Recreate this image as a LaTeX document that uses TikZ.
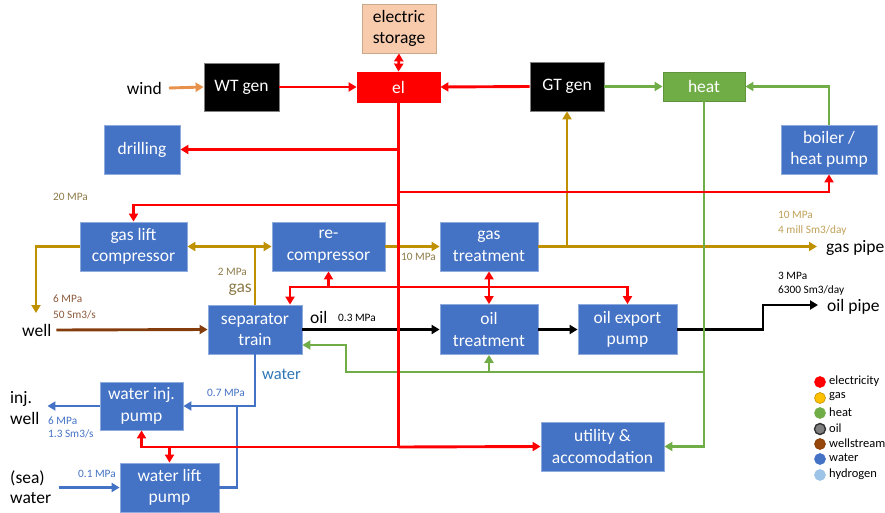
\documentclass[tikz,border=0pt]{standalone}
\usepackage{fontspec}
\setmainfont{Carlito}
\usetikzlibrary{arrows.meta,calc}
\definecolor{cred}{HTML}{FF0000}
\definecolor{cgold}{HTML}{BF9000}
\definecolor{cgreen}{HTML}{70AD47}
\definecolor{cblue}{HTML}{4472C4}
\definecolor{cbrown}{HTML}{843C0C}
\definecolor{corange}{HTML}{E8914A}
\definecolor{cpeach}{HTML}{F8CBAD}
\definecolor{cpeachd}{HTML}{C9A98C}
\definecolor{cbord}{HTML}{8FAADC}
\definecolor{gaslab}{HTML}{8C7A48}
\definecolor{gaslabB}{HTML}{BFA056}
\definecolor{brlab}{HTML}{8B5A3C}
\definecolor{bllab}{HTML}{4472C4}
\definecolor{watlab}{HTML}{2E75B6}
\definecolor{cgrey}{HTML}{7F7F7F}
\definecolor{cyell}{HTML}{FFC000}
\definecolor{chyd}{HTML}{9DC3E6}
\begin{document}
\begin{tikzpicture}[x=1pt,y=-1pt,
  box/.style={draw=cbord, line width=0.8pt, fill=cblue, text=white, align=center,
    font=\fontsize{17.5}{21.5}\selectfont, inner sep=0pt},
  txt/.style={font=\fontsize{17.5}{20.5}\selectfont, inner sep=0pt, align=left},
  sml/.style={font=\fontsize{11.3}{14}\selectfont, inner sep=0pt, align=left},
  leg/.style={font=\fontsize{12.5}{14}\selectfont, inner sep=0pt, anchor=west},
  dot/.style={circle, minimum size=11pt, inner sep=0pt, line width=0.6pt},
  ln/.style={line width=2.9pt},
  ar/.style={-{Triangle[length=8pt,width=9pt]}},
  dar/.style={{Triangle[length=8pt,width=9pt]}-{Triangle[length=8pt,width=9pt]}},
  elc/.style={ln, draw=cred},
  gasc/.style={ln, draw=cgold},
  oilc/.style={ln, draw=black},
  wsc/.style={ln, draw=cbrown},
  watc/.style={ln, draw=cblue},
  heatc/.style={ln, draw=cgreen},
  windc/.style={ln, draw=corange}
]
\useasboundingbox (0,0) rectangle (885,513);

% ---------- boxes ----------
\node[box, fill=cpeach, draw=cpeachd, text=black, minimum width=74pt, minimum height=49pt] (stor) at (399,28.5) {electric\\storage};
\node[box, fill=black, draw=gray, minimum width=75pt, minimum height=48pt] (wt) at (241.5,87) {WT gen};
\node[box, fill=cred, draw=cred, minimum width=83pt, minimum height=30pt] (el) at (398.5,87) {el};
\node[box, fill=black, draw=gray, minimum width=74pt, minimum height=49pt] (gt) at (567,86.5) {GT gen};
\node[box, fill=cgreen, draw=cgreen!85!black, minimum width=82pt, minimum height=29pt] (heat) at (704,86.5) {heat};
\node[box, minimum width=96pt, minimum height=49pt] (boil) at (829,149.5) {boiler /\\heat pump};
\node[box, minimum width=76pt, minimum height=49pt] (drill) at (142,149.5) {drilling};
\node[box, minimum width=107pt, minimum height=49pt] (glc) at (133.5,246.5) {gas lift\\compressor};
\node[box, minimum width=113pt, minimum height=49pt] (rec) at (328.5,246.5) {re-\\compressor};
\node[box, minimum width=98pt, minimum height=49pt] (gtr) at (489,246.5) {gas\\treatment};
\node[box, minimum width=94pt, minimum height=49pt] (sep) at (255,329.5) {separator\\train};
\node[box, minimum width=98pt, minimum height=50pt] (otr) at (489,329.5) {oil\\treatment};
\node[box, minimum width=99pt, minimum height=50pt] (oep) at (627.5,329.5) {oil export\\pump};
\node[box, minimum width=83pt, minimum height=48pt] (wip) at (141.5,406) {water inj.\\pump};
\node[box, minimum width=99pt, minimum height=49pt] (wlp) at (169.5,487.5) {water lift\\pump};
\node[box, minimum width=123pt, minimum height=49pt] (util) at (602.5,446.5) {utility \&\\accomodation};

% ---------- terminal texts ----------
\node[txt, anchor=east] (wind) at (162,88) {wind};
\node[txt, anchor=west] (well) at (22,330) {well};
\node[txt, anchor=base west] (gp) at (826,252) {gas pipe};
\node[txt, anchor=base west] (op) at (827,311) {oil pipe};
\node[txt, anchor=west] (inj) at (10,408) {inj.\\well};
\node[txt, anchor=west] (sea) at (10,487) {(sea)\\water};

% ---------- labels ----------
\node[sml, text=gaslab, anchor=west] (l20) at (53,197) {20 MPa};
\node[sml, text=brlab, anchor=west, font=\fontsize{11.3}{16}\selectfont] (lwell) at (53,307) {6 MPa\\50 Sm3/s};
\node[sml, text=gaslab, anchor=east] (l2) at (247,272) {2 MPa};
\node[txt, text=gaslab, anchor=base east] (lgas) at (252,292) {gas};
\node[sml, text=gaslab, anchor=west] (l10) at (401,257) {10 MPa};
\node[txt, anchor=base west] (loil) at (310,323) {oil};
\node[sml, anchor=west] (l03) at (338,318) {0.3 MPa};
\node[sml, text=gaslabB, anchor=west, font=\fontsize{11.3}{15}\selectfont] (lgp) at (778,223.5) {10 MPa\\4 mill Sm3/day};
\node[sml, anchor=west, font=\fontsize{11.3}{13.5}\selectfont] (lop) at (778,283.5) {3 MPa\\6300 Sm3/day};
\node[txt, text=watlab, anchor=base west, font=\fontsize{16.5}{20}\selectfont] (lwat) at (262,379) {water};
\node[sml, text=bllab, anchor=west] (l07) at (207,393) {0.7 MPa};
\node[sml, text=bllab, anchor=west, font=\fontsize{11.3}{13.5}\selectfont] (linj) at (48,427.5) {6 MPa\\1.3 Sm3/s};
\node[sml, text=bllab, anchor=west] (l01) at (78,474) {0.1 MPa};

% ---------- junction coordinates ----------
\coordinate (elbus) at (398.5,447);
\coordinate (r192) at (398.5,192);
\coordinate (r205) at (398.5,205);
\coordinate (r287) at (398.5,287);
\coordinate (gwell) at (36,313);
\coordinate (g372) at (704,372);
\coordinate (g346) at (346,372);
\coordinate (bj) at (237,406);
\coordinate (obend) at (763,305);

% ---------- wind ----------
\draw[windc, ar] ($(wind.east)+(7,0)$) -- (wt.west);

% ---------- gas ----------
\draw[gasc, ar] (glc.west) -| (gwell);
\draw[gasc, dar] (glc.east) -- (rec.west);
\draw[gasc] (sep.north) -- (sep.north |- rec.west);
\draw[gasc, ar] (rec.east) -- (gtr.west);
\draw[gasc, ar] (gtr.east) -- ($(gp.west |- gtr.east)+(-9,0)$);
\draw[gasc, ar] (gtr.east -| gt.south) -- (gt.south);

% ---------- oil ----------
\draw[oilc, ar] (sep.east) -- (otr.west);
\draw[oilc, ar] (otr.east) -- (oep.west);
\draw[oilc, ar] (oep.east) -| (obend) -- ($(op.west |- obend)+(-9,0)$);

% ---------- wellstream ----------
\draw[wsc, ar] ($(well.east)+(5,0)$) -- (sep.west);

% ---------- water ----------
\draw[watc, ar] (sep.south) |- (wip.east);
\draw[watc] (wlp.east) -| (bj);
\draw[watc, ar] (wip.west) -- ($(inj.east |- wip.west)+(8,0)$);
\draw[watc, ar] ($(sea.east |- wlp.west)+(8,0)$) -- (wlp.west);

% ---------- heat ----------
\draw[heatc, ar] (gt.east) -- (heat.west);
\draw[heatc, ar] (boil.north) |- (heat.east);
\draw[heatc, ar] (heat.south) |- (util.east);
\draw[heatc, ar] (g372) -- (g346) |- ([yshift=-15.5pt]sep.east);
\draw[heatc, ar] (otr.south |- g372) -- (otr.south);

% ---------- electricity ----------
\draw[elc, ar] (wt.east) -- (el.west);
\draw[elc, ar] (gt.west) -- (el.east);
\draw[elc, dar] (el.north) -- (stor.south);
\draw[elc] (el.south) -- (elbus);
\draw[elc, ar] (el.south |- drill.east) -- (drill.east);
\draw[elc, ar] (r192) -| (boil.south);
\draw[elc, ar] (r205) -| (glc.north);
\draw[elc, ar] (r287) -| ([xshift=35pt]sep.north);
\draw[elc, ar] (r287) -| (rec.south);
\draw[elc, ar] (r287) -| (oep.north);
\draw[elc, dar] (gtr.south) -- (otr.north);
\draw[elc, ar] (elbus) -- (util.west);
\draw[elc, ar] (elbus) -| (wip.south);
\draw[elc, ar] (wlp.north |- elbus) -- (wlp.north);

% ---------- legend ----------
\node[dot, fill=cred, draw=cred] (d1) at (820,382) {};
\node[dot, fill=cyell, draw=cgold] (d2) at (820,398) {};
\node[dot, fill=cgreen, draw=cgreen] (d3) at (820,413) {};
\node[dot, fill=cgrey, draw=black!80, line width=1.4pt] (d4) at (820,429) {};
\node[dot, fill=cbrown!85!orange, draw=cbrown] (d5) at (820,444) {};
\node[dot, fill=cblue, draw=cblue] (d6) at (820,459) {};
\node[dot, fill=chyd, draw=chyd] (d7) at (820,475) {};
\node[leg] at (829,381) {electricity};
\node[leg] at (829,397) {gas};
\node[leg] at (829,412) {heat};
\node[leg] at (829,428) {oil};
\node[leg] at (829,443) {wellstream};
\node[leg] at (829,458) {water};
\node[leg] at (829,474) {hydrogen};
\end{tikzpicture}
\end{document}
